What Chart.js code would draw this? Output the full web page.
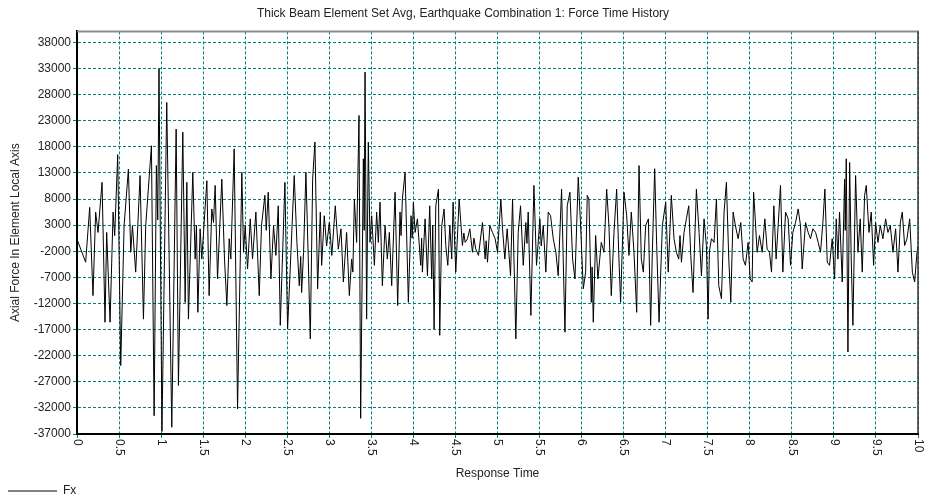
<!DOCTYPE html>
<html lang="en">
<head>
<meta charset="UTF-8">
<title>Force Time History</title>
<script src="https://cdn.jsdelivr.net/npm/chart.js"></script>
<style>
    body { margin: 0; background: #ffffff; }
    .wrap { width: 931px; height: 498px; position: relative; }
</style>
</head>
<body>
<div class="wrap"><canvas id="fxChart"></canvas></div>
<script>
// response time (s), one line per second of record
const responseTime = [
    0, 0.103, 0.151, 0.19, 0.222, 0.25, 0.298, 0.333, 0.353, 0.393, 0.429, 0.448, 0.484, 0.52, 0.56, 0.611, 0.639, 0.659, 0.698, 0.75, 0.79, 0.817, 0.885, 0.917, 0.944, 0.96, 0.975, 1.01,
    1.067, 1.127, 1.179, 1.206, 1.258, 1.286, 1.306, 1.325, 1.377, 1.405, 1.42, 1.437, 1.464, 1.484, 1.544, 1.571, 1.603, 1.623, 1.643, 1.671, 1.722, 1.754, 1.782, 1.81, 1.829, 1.869, 1.909, 1.96, 1.98,
    2.0, 2.028, 2.06, 2.087, 2.127, 2.167, 2.194, 2.234, 2.25, 2.274, 2.306, 2.337, 2.365, 2.393, 2.417, 2.472, 2.504, 2.544, 2.583, 2.615, 2.643, 2.66, 2.671, 2.694, 2.722, 2.75, 2.774, 2.802, 2.829, 2.861, 2.893, 2.909, 2.94, 2.968, 3.0,
    3.03, 3.071, 3.107, 3.139, 3.167, 3.206, 3.238, 3.266, 3.28, 3.298, 3.325, 3.353, 3.373, 3.405, 3.415, 3.425, 3.444, 3.464, 3.484, 3.504, 3.536, 3.563, 3.583, 3.603, 3.631, 3.663, 3.69, 3.714, 3.742, 3.782, 3.813, 3.841, 3.853, 3.869, 3.901, 3.94, 3.972, 3.985, 4.0,
    4.02, 4.048, 4.087, 4.098, 4.107, 4.139, 4.167, 4.194, 4.218, 4.23, 4.246, 4.266, 4.298, 4.313, 4.337, 4.365, 4.385, 4.409, 4.433, 4.456, 4.472, 4.504, 4.544, 4.583, 4.6, 4.615, 4.643, 4.671, 4.702, 4.72, 4.742, 4.774, 4.821, 4.853, 4.865, 4.881, 4.909, 4.94, 4.972, 5.0,
    5.04, 5.06, 5.087, 5.115, 5.155, 5.179, 5.218, 5.246, 5.274, 5.306, 5.337, 5.35, 5.365, 5.397, 5.433, 5.464, 5.504, 5.52, 5.544, 5.575, 5.603, 5.631, 5.663, 5.694, 5.722, 5.762, 5.802, 5.829, 5.861, 5.893, 5.921, 5.96, 5.988,
    6.02, 6.048, 6.067, 6.087, 6.115, 6.125, 6.139, 6.167, 6.194, 6.234, 6.266, 6.298, 6.325, 6.353, 6.385, 6.417, 6.444, 6.464, 6.504, 6.536, 6.563, 6.591, 6.623, 6.655, 6.683, 6.71, 6.734, 6.762, 6.794, 6.821, 6.841, 6.869, 6.893, 6.921, 6.96, 7.0,
    7.03, 7.067, 7.099, 7.127, 7.155, 7.17, 7.187, 7.218, 7.246, 7.274, 7.298, 7.325, 7.365, 7.397, 7.425, 7.456, 7.484, 7.504, 7.52, 7.544, 7.575, 7.603, 7.631, 7.663, 7.694, 7.722, 7.75, 7.774, 7.802, 7.829, 7.861, 7.893, 7.921, 7.948, 7.98, 8.004, 8.028,
    8.045, 8.06, 8.087, 8.115, 8.147, 8.179, 8.206, 8.234, 8.258, 8.286, 8.313, 8.337, 8.365, 8.393, 8.425, 8.456, 8.484, 8.512, 8.544, 8.575, 8.603, 8.623, 8.663, 8.694, 8.722, 8.75, 8.782, 8.813, 8.841, 8.869, 8.893, 8.921, 8.948, 8.98,
    9.008, 9.028, 9.048, 9.067, 9.099, 9.127, 9.135, 9.147, 9.167, 9.187, 9.206, 9.226, 9.258, 9.286, 9.313, 9.337, 9.365, 9.385, 9.417, 9.444, 9.472, 9.496, 9.524, 9.551, 9.583, 9.615, 9.643, 9.671, 9.702, 9.734, 9.762, 9.79, 9.813, 9.841, 9.869, 9.901, 9.933, 9.96, 9.988, 10
];

// Fx, axial force in element local axis
const fx = [
    300, -4100, 6400, -10500, 5500, 1600, 11200, -15600, 1600, -15600, 5500, 1000, 16500, -23900, 2900, 13700, -2200, 2900, -6000, 12500, -15000, 2900, 18200, -33500, 14400, 4000, 32900, -36500,
    26500, -35700, 21400, -27700, 20800, -11800, 11200, -15000, 13100, -3500, 3000, -13700, 2300, -3500, 11500, -10500, 6100, 3500, 10600, -7300, 11800, -3500, -12400, 400, -3500, 17600, -32200, 13100, -2200,
    2900, -5400, 4200, -3500, 5500, -10500, 2900, 8700, 2000, 9300, -7300, 2900, -2800, 6700, -16200, 11200, -16900, -2200, 12500, -300, -8600, -3000, -9900, -2200, 13100, -3500, -18800, 11800, 18900, -9200, 5500, -4700, 4800, -1000, 3500,
    -2800, 6700, -1600, 2300, -7900, 1600, -10500, -3500, -6000, 8000, -300, 24000, -34000, 15700, 2000, 32300, -15000, 18900, -300, 4800, -4700, 5500, -300, 7400, -8600, 2900, -3500, 1600, -8600, 9300, -12400, 5500, 1000, 8000, 13100, -11800, 4800, 500, 7400,
    1600, 4200, -4700, 500, -6000, 4200, -6700, 6700, -7300, 3000, -16900, 6700, 9900, -18100, 2900, 6100, -900, -4700, 2900, -3500, 7400, -6000, 8000, -900, 1500, -300, 400, 2300, -2200, 500, -1600, -2800, 3500, -3500, 0, -4100, 2900, 1600, 400, -2200,
    8000, 2300, -3500, 2300, -6700, 8000, -18800, 1600, 6700, -4700, 3500, -500, 5500, -14300, 10600, -4700, 4200, -1000, 2900, -6000, 5500, 4800, 400, -2200, -6700, 9900, -17500, 6700, 9300, -3500, -7300, 12200, 3000,
    -9200, -6000, 8700, 8000, -11800, -5000, -15600, 1000, -7300, -300, -2200, 9900, 2900, -10500, 1600, 9900, -3500, -11800, 9300, 4800, -2800, 5500, -2200, -13700, 14400, -3500, -6000, 2900, 4200, -16200, -2200, 13800, -900, -15600, 2900, 7400,
    -6000, 8700, 400, -2200, -3500, 1000, -4100, 1600, 4200, 6700, -2800, -9900, 9900, 1600, -6700, 4200, -900, -15000, -2000, 400, -300, 8000, -8600, -11100, 5500, 11200, -3500, -11800, 5500, 2900, 400, 3500, -3500, -4700, -300, -7300, -7900,
    9300, 5500, -2200, 1000, -2200, 4200, -1600, -2200, -6000, 6700, -3500, 2900, 10600, -6000, 5500, 4200, -4700, 1600, 3500, 6100, 2900, -5400, 3500, 1600, 400, 2300, 1600, -300, -2200, 3500, 9900, -4100, -4700, 400,
    -7300, 4200, -3500, 5500, -7900, 11800, 2000, 15700, -21300, 15000, -3500, -16200, 12500, -2200, 4200, -6000, 8700, 10600, 1600, 5500, -4700, 3500, -300, 2900, 400, 4200, 1600, 2900, -2200, 2300, -6000, 3500, 5500, -900, 400, 4200, -6000, -7900, -2200, -1000
];

const yTickValues = [-37000, -32000, -27000, -22000, -17000, -12000, -7000, -2000, 3000, 8000, 13000, 18000, 23000, 28000, 33000, 38000];
const seriesName = 'Fx';

if (responseTime.length !== fx.length) {
    console.error('length mismatch', responseTime.length, fx.length);
}

const FONT = "'Liberation Sans', Arial, sans-serif";
const GRID = '#008282';
const TEXT = '#222222';

Chart.defaults.font.family = FONT;
Chart.defaults.font.size = 12;
Chart.defaults.color = TEXT;

// the original writes the x tick labels turned clockwise, reading downwards
const xLabelsDown = {
    id: 'xLabelsDown',
    afterDraw(chart) {
        const xs = chart.scales.x;
        const ctx = chart.ctx;
        ctx.save();
        ctx.font = '12px ' + FONT;
        ctx.fillStyle = TEXT;
        ctx.textAlign = 'left';
        ctx.textBaseline = 'middle';
        xs.ticks.forEach(t => {
            ctx.save();
            ctx.translate(xs.getPixelForValue(t.value), xs.top + 5);
            ctx.rotate(Math.PI / 2);
            ctx.fillText(String(t.value), 0, 0);
            ctx.restore();
        });
        ctx.restore();
    }
};

// grey top edge and dark right edge of the plot box
const plotFrame = {
    id: 'plotFrame',
    afterDatasetsDraw(chart) {
        const ctx = chart.ctx;
        const a = chart.chartArea;
        ctx.save();
        ctx.lineWidth = 2;
        ctx.strokeStyle = '#8a8a8a';
        ctx.beginPath();
        ctx.moveTo(a.left, a.top);
        ctx.lineTo(a.right + 1, a.top);
        ctx.stroke();
        ctx.lineWidth = 1.5;
        ctx.strokeStyle = '#333333';
        ctx.beginPath();
        ctx.moveTo(a.right, a.top);
        ctx.lineTo(a.right, a.bottom);
        ctx.stroke();
        ctx.restore();
    }
};

const points = responseTime.map((t, i) => ({ x: t, y: fx[i] }));

new Chart(document.getElementById('fxChart'), {
    type: 'line',
    data: {
        datasets: [{
            label: seriesName,
            data: points,
            borderColor: '#000000',
            backgroundColor: '#000000',
            borderWidth: 1,
            pointRadius: 0,
            tension: 0,
            fill: false
        }]
    },
    options: {
        responsive: true,
        maintainAspectRatio: false,
        animation: false,
        events: [],
        layout: { padding: { left: 8, right: 13, top: 0, bottom: -9 } },
        plugins: {
            title: {
                display: true,
                text: 'Thick Beam Element Set Avg, Earthquake Combination 1: Force Time History',
                color: TEXT,
                font: { size: 12, weight: 'normal' },
                padding: { top: 6, bottom: 11 }
            },
            legend: {
                position: 'bottom',
                align: 'start',
                labels: {
                    usePointStyle: true,
                    pointStyle: 'line',
                    pointStyleWidth: 49,
                    padding: 0,
                    color: TEXT,
                    font: { size: 12 }
                }
            },
            tooltip: { enabled: false }
        },
        scales: {
            x: {
                type: 'linear',
                min: 0,
                max: 10,
                ticks: { stepSize: 0.5, display: false },
                grid: { color: GRID, tickLength: 4, lineWidth: 1 },
                border: { color: '#000000', width: 2, dash: [3, 2] },
                title: {
                    display: true,
                    text: 'Response Time',
                    color: TEXT,
                    font: { size: 12 },
                    padding: { top: 0, bottom: 4 }
                },
                afterFit(scale) { scale.height = 51; }
            },
            y: {
                min: -37000,
                max: 40100,
                afterBuildTicks(scale) {
                    scale.ticks = yTickValues.map(v => ({ value: v }));
                },
                ticks: {
                    color: TEXT,
                    padding: 2,
                    font: { size: 12 },
                    callback: value => String(value)
                },
                grid: { color: GRID, tickLength: 4, lineWidth: 1 },
                border: { color: '#000000', width: 2, dash: [3, 2] },
                title: {
                    display: true,
                    text: 'Axial Force In Element Local Axis',
                    color: TEXT,
                    font: { size: 12 },
                    padding: { top: 0, bottom: 0 }
                },
                afterFit(scale) { scale.width = 69; }
            }
        }
    },
    plugins: [plotFrame, xLabelsDown]
});
</script>
</body>
</html>
